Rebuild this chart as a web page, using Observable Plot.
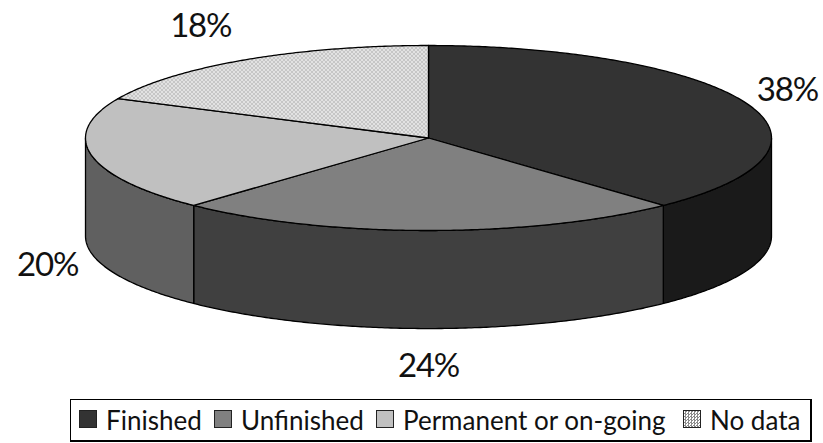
<!DOCTYPE html>
<html>
<head>
<meta charset="utf-8">
<script src="https://cdn.jsdelivr.net/npm/d3@7"></script>
<script src="https://cdn.jsdelivr.net/npm/@observablehq/plot@0.6"></script>
<style>
  html, body { margin: 0; padding: 0; background: #fff; }
  svg { display: block; }
  svg text { letter-spacing: -1.2px; }
  #legend {
    position: absolute; left: 70px; top: 399px; width: 739px; height: 40px;
    border: 1px solid #000; border-right-width: 2px; border-bottom-width: 2px;
    font: 26px Lato, Carlito, sans-serif; color: #111;
  }
  #legend span { position: absolute; top: 3px; line-height: 34px; white-space: nowrap; }
  #legend i { position: absolute; top: 10px; width: 16px; height: 16px; border: 1.5px solid #222; }
</style>
</head>
<body>
<div id="chart"></div>
<div id="legend"></div>
<script>
// Share of projects by status, clockwise from twelve o'clock
const categories = ["Finished", "Unfinished", "Permanent or on-going", "No data"];
const shares = [38, 24, 20, 18];

// Shading of each slice: top face and outer wall
const topFills = ["#333333", "#808080", "#c0c0c0", "url(#dots)"];
const wallFills = ["#1a1a1a", "#404040", "#606060", "none"];

// Disc layout: wall height in radii of the flattened y scale, label nudges in pixels
const wallDepth = 1.06;
const labelOffsets = [[40, -14], [0, 136], [-44, 110], [-44, -33]];

const step = 0.5;
const arc = (from, to) => d3.range(from, to, step).concat(to);
const rad = d => d * Math.PI / 180;
const px = a => Math.sin(rad(a));
const py = a => Math.cos(rad(a));

// Cumulative start and end angle of each slice
let acc = 0;
const slices = categories.map((name, i) => {
  const start = acc * 3.6;
  acc += shares[i];
  return {name, share: shares[i], start, end: acc * 3.6, top: topFills[i], wall: wallFills[i], offset: labelOffsets[i]};
});

// Top face: centre plus rim points
const faceOutline = s => [{x: 0, y: 0}, ...arc(s.start, s.end).map(a => ({x: px(a), y: py(a)}))];

// Wall: the part of the rim that faces the viewer, extruded downwards
const wallOutline = s => {
  const from = Math.max(s.start, 90), to = Math.min(s.end, 270);
  if (from >= to) return null;
  const rim = arc(from, to);
  return [
    ...rim.map(a => ({x: px(a), y: py(a)})),
    ...rim.slice().reverse().map(a => ({x: px(a), y: py(a) - wallDepth}))
  ];
};

const polygon = (points, fill) => Plot.line(points, {
  x: "x", y: "y", fill, stroke: "#000", strokeWidth: 1.3, curve: "linear-closed", strokeLinejoin: "round"
});

// Fine stipple used for the "No data" slice
const stipple = () => {
  const defs = d3.create("svg:defs");
  const pattern = defs.append("pattern").attr("id", "dots")
    .attr("patternUnits", "userSpaceOnUse").attr("width", 4).attr("height", 4);
  pattern.append("rect").attr("width", 4).attr("height", 4).attr("fill", "#fff");
  [[0, 0], [1, 1], [2, 2], [3, 3], [2, 0], [0, 2]].forEach(([x, y]) =>
    pattern.append("rect").attr("x", x).attr("y", y).attr("width", 1).attr("height", 1).attr("fill", "#8c8c8c"));
  return defs.node();
};

const walls = slices.filter(wallOutline).map(s => polygon(wallOutline(s), s.wall));
const faces = slices.map(s => polygon(faceOutline(s), s.top));
const labels = slices.map(s => {
  const mid = (s.start + s.end) / 2;
  return Plot.text([s], {
    x: () => px(mid), y: () => py(mid), text: d => d.share + "%",
    dx: s.offset[0], dy: s.offset[1], fontSize: 33, fill: "#111", fontFamily: "Lato, Carlito, sans-serif"
  });
});

const plot = Plot.plot({
  width: 823,
  height: 399,
  margin: 0,
  x: {domain: [-1, 1], range: [85, 771], axis: null},
  y: {domain: [1, -1], range: [45, 230], axis: null},
  marks: [stipple, ...walls, ...faces, ...labels]
});
document.getElementById("chart").append(plot);

// Legend strip below the chart
const legendLeft = [8, 143, 305, 612];
const textLeft = [35, 170, 332, 639];
const legend = d3.select("#legend");
slices.forEach((s, i) => {
  const swatch = legend.append("i").style("left", legendLeft[i] + "px");
  if (i < 3) swatch.style("background", s.top);
  else swatch.style("background", "repeating-conic-gradient(#8c8c8c 0 25%, #fff 0 50%) 0 0 / 3px 3px");
  legend.append("span").style("left", textLeft[i] + "px").text(s.name);
});
</script>
</body>
</html>
